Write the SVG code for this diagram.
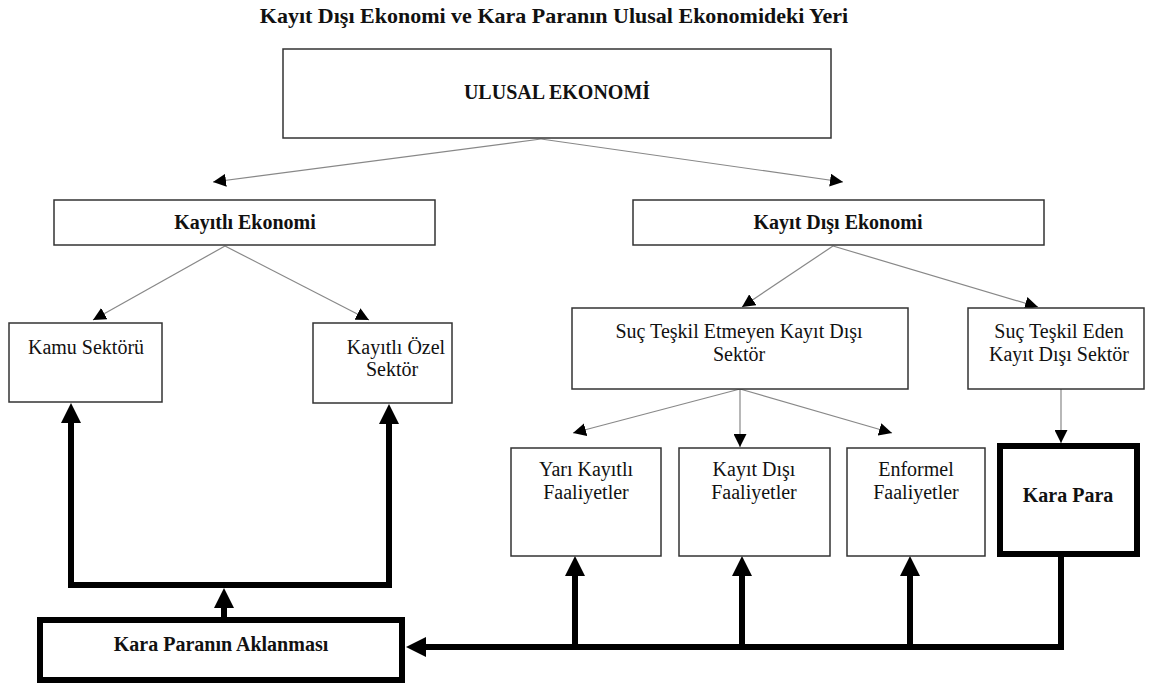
<svg xmlns="http://www.w3.org/2000/svg" width="1150" height="689" viewBox="0 0 1150 689">
<defs>
<style>
text{font-family:"Liberation Serif","Times New Roman",serif;fill:#111;text-anchor:middle;font-size:20px}
.b{font-weight:bold}
.title{font-size:22px}
.box{fill:#fff;stroke:#333;stroke-width:1.5}
.tbox{fill:#fff;stroke:#000;stroke-width:6}
.thin{stroke:#888;stroke-width:1.2;fill:none}
.thick{stroke:#000;stroke-width:6;fill:none}
</style>
<marker id="ah" markerUnits="userSpaceOnUse" markerWidth="13" markerHeight="13" viewBox="0 0 13 13" refX="13" refY="6.5" orient="auto">
<path d="M0,0 L13,6.5 L0,13 z" fill="#000"/>
</marker>
<marker id="AH" markerUnits="userSpaceOnUse" markerWidth="20" markerHeight="20" viewBox="0 0 20 20" refX="0" refY="10" orient="auto">
<path d="M0,0 L20,10 L0,20 z" fill="#000"/>
</marker>
</defs>
<rect width="1150" height="689" fill="#fff"/>
<text class="b title" x="554" y="23">Kayıt Dışı Ekonomi ve Kara Paranın Ulusal Ekonomideki Yeri</text>

<g id="connectors">
<line class="thin" x1="541" y1="139" x2="213" y2="182" marker-end="url(#ah)"/>
<line class="thin" x1="541" y1="139" x2="843" y2="182" marker-end="url(#ah)"/>
<line class="thin" x1="225" y1="246" x2="93" y2="320" marker-end="url(#ah)"/>
<line class="thin" x1="225" y1="246" x2="369" y2="320" marker-end="url(#ah)"/>
<line class="thin" x1="833" y1="246" x2="742" y2="307" marker-end="url(#ah)"/>
<line class="thin" x1="833" y1="246" x2="1038" y2="307" marker-end="url(#ah)"/>
<line class="thin" x1="740" y1="389" x2="573" y2="433" marker-end="url(#ah)"/>
<line class="thin" x1="740" y1="389" x2="740" y2="447" marker-end="url(#ah)"/>
<line class="thin" x1="740" y1="389" x2="892" y2="433" marker-end="url(#ah)"/>
<line class="thin" x1="1061" y1="389" x2="1061" y2="443" marker-end="url(#ah)"/>

<polyline class="thick" points="1061,557 1061,647 426,647" marker-end="url(#AH)"/>
<line class="thick" x1="575" y1="647" x2="575" y2="576" marker-end="url(#AH)"/>
<line class="thick" x1="742" y1="647" x2="742" y2="576" marker-end="url(#AH)"/>
<line class="thick" x1="910" y1="647" x2="910" y2="576" marker-end="url(#AH)"/>
<line class="thick" x1="224" y1="617" x2="224" y2="608" marker-end="url(#AH)"/>
<polyline class="thick" points="71,423 71,585 389,585 389,424"/>
<line class="thick" x1="71" y1="430" x2="71" y2="423" marker-end="url(#AH)"/>
<line class="thick" x1="389" y1="430" x2="389" y2="424" marker-end="url(#AH)"/>
</g>

<g id="ulusal"><rect class="box" x="283" y="49" width="548" height="89"/><text class="b" x="557" y="99">ULUSAL EKONOMİ</text></g>
<g id="kayitli"><rect class="box" x="54" y="200" width="381" height="45"/><text class="b" x="245" y="229">Kayıtlı Ekonomi</text></g>
<g id="kayitdisi"><rect class="box" x="633" y="200" width="411" height="45"/><text class="b" x="838" y="229">Kayıt Dışı Ekonomi</text></g>
<g id="kamu"><rect class="box" x="9" y="323" width="153" height="79"/><text x="86" y="354">Kamu Sektörü</text></g>
<g id="ozel"><rect class="box" x="313" y="323" width="139" height="80"/><text x="396" y="354">Kayıtlı Özel</text><text x="392" y="376">Sektör</text></g>
<g id="sucetmeyen"><rect class="box" x="572" y="308" width="336" height="81"/><text x="739" y="338">Suç Teşkil Etmeyen Kayıt Dışı</text><text x="739" y="361">Sektör</text></g>
<g id="suceden"><rect class="box" x="968" y="308" width="176" height="81"/><text x="1059" y="338">Suç Teşkil Eden</text><text x="1059" y="361">Kayıt Dışı Sektör</text></g>
<g id="yari"><rect class="box" x="511" y="448" width="150" height="108"/><text x="586" y="476">Yarı Kayıtlı</text><text x="586" y="499">Faaliyetler</text></g>
<g id="kdfaal"><rect class="box" x="679" y="448" width="151" height="108"/><text x="754" y="476">Kayıt Dışı</text><text x="754" y="499">Faaliyetler</text></g>
<g id="enformel"><rect class="box" x="847" y="448" width="138" height="108"/><text x="916" y="476">Enformel</text><text x="916" y="499">Faaliyetler</text></g>
<g id="karapara"><rect class="tbox" x="1000" y="446" width="137" height="108"/><text class="b" x="1068" y="502">Kara Para</text></g>
<g id="aklanma"><rect class="tbox" x="40" y="620" width="362" height="60"/><text class="b" x="221" y="651">Kara Paranın Aklanması</text></g>
</svg>
